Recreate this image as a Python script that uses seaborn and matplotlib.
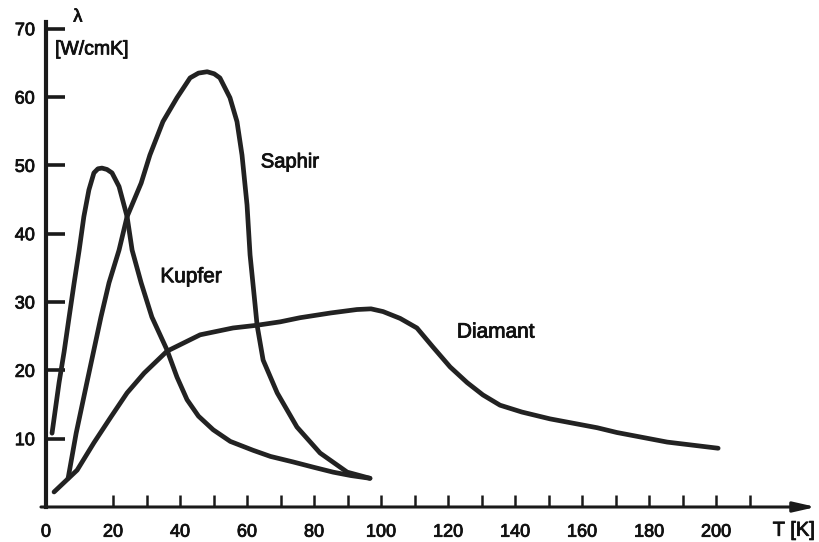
import numpy as np
import pandas as pd
import matplotlib
matplotlib.use("Agg")
import matplotlib.pyplot as plt
import matplotlib.patheffects as pe
import seaborn as sns

# thermal conductivity curves
kupfer_T = [1.8, 3.9, 5.4, 6.9, 8.4, 9.9, 11.3, 12.8, 14.3, 15.5, 16.7, 18.2, 19.7, 21.8,
            24.2, 25.7, 28.4, 31.6, 36.1, 39.1, 42.1, 45.5, 49.9, 55.0, 61.8, 67.0, 73.7,
            80.0, 85.7, 91.0, 96.7]
kupfer_L = [10.8, 18.2, 22.7, 27.8, 32.8, 37.6, 42.5, 46.4, 48.9, 49.5, 49.6, 49.4, 48.9, 46.9,
            42.5, 37.6, 32.8, 27.8, 23.0, 19.0, 15.7, 13.3, 11.3, 9.6, 8.3, 7.4, 6.6,
            5.8, 5.1, 4.6, 4.2]

saphir_T = [6.6, 9.0, 12.2, 14.3, 16.4, 18.8, 21.8, 24.2, 28.4, 31.0, 34.9, 39.1, 43.0, 45.5,
            48.1, 50.2, 51.9, 54.9, 57.0, 58.5, 60.0, 60.9, 62.4, 63.0, 64.8, 69.0, 74.9,
            81.8, 89.9, 96.7]
saphir_L = [4.2, 10.8, 18.2, 23.0, 27.8, 32.8, 37.6, 42.5, 47.4, 51.5, 56.4, 59.9, 62.8, 63.5,
            63.7, 63.4, 62.8, 59.9, 56.4, 51.5, 44.2, 36.9, 29.6, 26.6, 21.5, 16.7, 11.7,
            7.9, 5.1, 4.2]

diamant_T = [2.4, 9.3, 14.3, 19.4, 24.2, 29.3, 36.1, 46.0, 55.8, 63.0, 69.9, 75.8, 85.0, 92.8,
             97.0, 100.6, 105.7, 110.7, 115.5, 120.6, 125.7, 130.4, 135.5, 142.0, 150.4,
             164.5, 170.4, 185.4, 200.6]
diamant_L = [2.2, 5.4, 9.4, 13.2, 16.7, 19.6, 22.8, 25.2, 26.2, 26.6, 27.1, 27.7, 28.4, 28.9,
             29.0, 28.6, 27.6, 26.2, 23.4, 20.5, 18.2, 16.4, 14.9, 13.9, 12.9,
             11.6, 10.9, 9.5, 8.6]

x_ticks = [0, 20, 30, 40, 50, 60, 70, 80, 90, 100, 110, 120, 130, 140, 150, 160, 170, 180, 190, 200, 210]
x_labels = ['0', '20', '', '40', '', '60', '', '80', '', '100', '', '120', '', '140', '',
            '160', '', '180', '', '200', '']
y_ticks = [10, 20, 30, 40, 50, 60, 70]

sns.set_theme(style="white")
plt.rcParams['font.family'] = ['Liberation Sans', 'DejaVu Sans']

fig = plt.figure(figsize=(8.19, 5.42), dpi=100)
ax = fig.add_axes([46 / 819, 35 / 542, 773 / 819, 507 / 542])

ink = '#222222'
for T, L in [(kupfer_T, kupfer_L), (saphir_T, saphir_L), (diamant_T, diamant_L)]:
    df = pd.DataFrame({'T': T, 'L': L})
    sns.lineplot(data=df, x='T', y='L', sort=False, estimator=None, ax=ax,
                 color=ink, linewidth=3.4, solid_joinstyle='round', solid_capstyle='round')

ax.set_xlim(0, 230.7)
ax.set_ylim(0, 74.2)
ax.set_xlabel('')
ax.set_ylabel('')

for s in ['top', 'right', 'bottom']:
    ax.spines[s].set_visible(False)
ax.spines['left'].set_bounds(0, 71)
ax.spines['left'].set_linewidth(3)
ax.spines['left'].set_color('#1a1a1a')

# x axis with arrow head
ax.annotate('', xy=(229.8, 0), xytext=(-1.5, 0), xycoords='data',
            arrowprops=dict(arrowstyle='-|>,head_length=1.1,head_width=0.25',
                            color='#1a1a1a', lw=2.2, shrinkA=0, shrinkB=0),
            annotation_clip=False)

ax.set_xticks(x_ticks)
ax.set_xticklabels(x_labels)
ax.set_yticks(y_ticks)
ax.tick_params(axis='x', direction='in', length=9, width=1.8, color='#1a1a1a',
               labelsize=13, pad=12, bottom=True)
ax.tick_params(axis='y', direction='in', length=14, width=2.6, color='#1a1a1a',
               labelsize=13, pad=8, left=True)

bold_ink = [pe.withStroke(linewidth=0.6, foreground='#111111')]
for lab in ax.get_xticklabels() + ax.get_yticklabels():
    lab.set_color('#111111')
    lab.set_path_effects(bold_ink)

txt = dict(color='#111111', path_effects=bold_ink)
ax.text(9.5, 71.7, 'λ', fontsize=13, ha='center', va='center', clip_on=False, **txt)
ax.text(2.7, 66.9, '[W/cmK]', fontsize=14, ha='left', va='center', **txt)
ax.text(229.5, -3.4, 'T [K]', fontsize=14.5, ha='right', va='center', clip_on=False, **txt)

ax.text(72.8, 50.5, 'Saphir', fontsize=14.5, ha='center', va='center', **txt)
ax.text(43.3, 33.7, 'Kupfer', fontsize=15, ha='center', va='center', **txt)
ax.text(134.3, 25.6, 'Diamant', fontsize=15, ha='center', va='center', **txt)

fig.savefig('out.png', dpi=100)
